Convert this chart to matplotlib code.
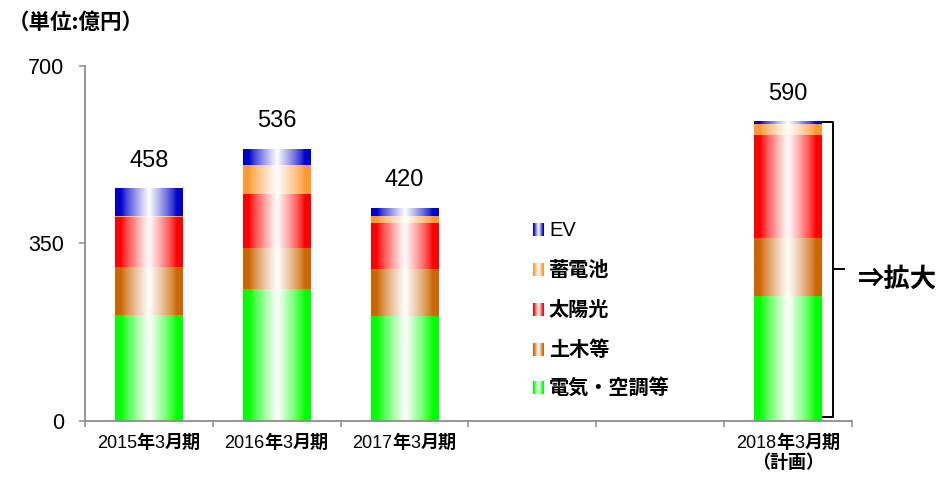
import re
import numpy as np
import matplotlib
matplotlib.use("Agg")
import matplotlib.pyplot as plt
from matplotlib.offsetbox import TextArea, HPacker, VPacker, AnnotationBbox

plt.rcParams['font.family'] = ['Liberation Sans', 'Noto Sans CJK JP']

# fiscal periods (two empty slots before the plan year)
periods = ['2015年3月期', '2016年3月期', '2017年3月期', '', '', '2018年3月期\n（計画）']

# segment values, 億円
elec = [209, 260, 208, 0, 0, 247]      # 電気・空調等
civil = [95, 82, 92, 0, 0, 114]        # 土木等
solar = [99, 106, 91, 0, 0, 203]       # 太陽光
battery = [1, 57, 14, 0, 0, 21]        # 蓄電池
ev = [54, 31, 15, 0, 0, 5]             # EV

series_names = ['電気・空調等', '土木等', '太陽光', '蓄電池', 'EV']
series_colors = ['#00ff00', '#cc6600', '#ff0000', '#ff9933', '#0000cc']

GRAY = '#8c8c8c'


def shine(color, n=200):
    # horizontal gradient: solid at the edges, white stripe in the middle
    rgb = np.array(matplotlib.colors.to_rgb(color))
    u = np.linspace(0, 1, n)
    t = np.abs(2 * u - 1)
    w = np.clip((0.82 - t) / 0.82, 0, 1) ** 0.8
    img = rgb[None, :] * (1 - w[:, None]) + w[:, None]
    return img[None, :, :]


fig = plt.figure(figsize=(9.4, 4.78), dpi=100)
ax = fig.add_axes([0.0902, 0.1192, 0.8162, 0.7428])

x = np.arange(len(periods)) + 0.5
series = [elec, civil, solar, battery, ev]
bottom = np.zeros(len(periods))
bar_w = 0.53
for vals, col in zip(series, series_colors):
    bars = ax.bar(x, vals, bar_w, bottom=bottom, color='none', edgecolor='none')
    for b, v in zip(bars, vals):
        if v <= 0:
            continue
        x0, y0 = b.get_x(), b.get_y()
        ax.imshow(shine(col), extent=(x0, x0 + b.get_width(), y0, y0 + b.get_height()),
                  aspect='auto', interpolation='bilinear', zorder=2)
    bottom += np.array(vals)

totals = bottom
for xi, tot in zip(x, totals):
    if tot > 0:
        ax.annotate(f'{int(tot)}', (xi, tot), xytext=(0, 20), textcoords='offset points',
                    ha='center', va='center', fontsize=17)

# bracket beside the plan bar
last = len(periods) - 1
right = x[last] + bar_w / 2
top = totals[last]
bx = right + 0.085
ax.plot([right + 0.005, bx, bx, right + 0.005], [top, top, 8, 8], color='black', lw=1.4,
        clip_on=False, zorder=3, solid_joinstyle='round')
ax.plot([bx, right + 0.17], [(top + 8) / 2, (top + 8) / 2], color='black', lw=1.4,
        clip_on=False, zorder=3)
ax.text(right + 0.28, (top + 8) / 2 - 20, '⇒拡大', fontsize=19, weight='bold',
        ha='left', va='center', family=['Noto Sans CJK JP', 'DejaVu Sans'])

# legend drawn by hand, top entry first
leg_y = [0.093, 0.2, 0.313, 0.425, 0.538]
for name, col, ly in zip(series_names, series_colors, leg_y):
    ax.imshow(shine(col, 40), extent=(0.584, 0.598, ly - 0.017, ly + 0.017),
              transform=ax.transAxes, aspect='auto', interpolation='bilinear', zorder=2)
    ax.text(0.605, ly, name, transform=ax.transAxes, fontsize=14.5,
            weight='normal' if name == 'EV' else 'bold', va='center', ha='left')

ax.set_xlim(0, len(periods))
ax.set_ylim(0, 700)
ax.set_yticks([0, 350, 700])
ax.tick_params(axis='y', labelsize=15.5, length=4, width=1.1, color=GRAY, pad=11)
ax.set_xticks(np.arange(len(periods) + 1))
ax.set_xticklabels([])
ax.tick_params(axis='x', length=4, width=1.1, color=GRAY)
for side in ['top', 'right']:
    ax.spines[side].set_visible(False)
for side in ['left', 'bottom']:
    ax.spines[side].set_color(GRAY)
    ax.spines[side].set_linewidth(1.3)


def mixed_label(s):
    # digits regular, kanji bold
    lines = []
    for line in s.split('\n'):
        parts = [TextArea(p, textprops=dict(fontsize=13,
                                            weight='normal' if p.isdigit() else 'bold'))
                 for p in re.findall(r'\d+|\D+', line)]
        lines.append(HPacker(children=parts, pad=0, sep=0, align='baseline'))
    return VPacker(children=lines, pad=0, sep=2, align='center')


for xi, lab in zip(x, periods):
    if not lab:
        continue
    ab = AnnotationBbox(mixed_label(lab), (xi, 0), xycoords=('data', 'axes fraction'),
                        xybox=(0, -10), boxcoords='offset points', box_alignment=(0.5, 1),
                        frameon=False, pad=0)
    ax.add_artist(ab)

fig.text(8 / 940, 1 - 22 / 478, '（単位:億円）', fontsize=15.5, weight='bold',
         ha='left', va='center', family=['Noto Sans CJK JP', 'DejaVu Sans'])

fig.savefig('out.png', dpi=100)
